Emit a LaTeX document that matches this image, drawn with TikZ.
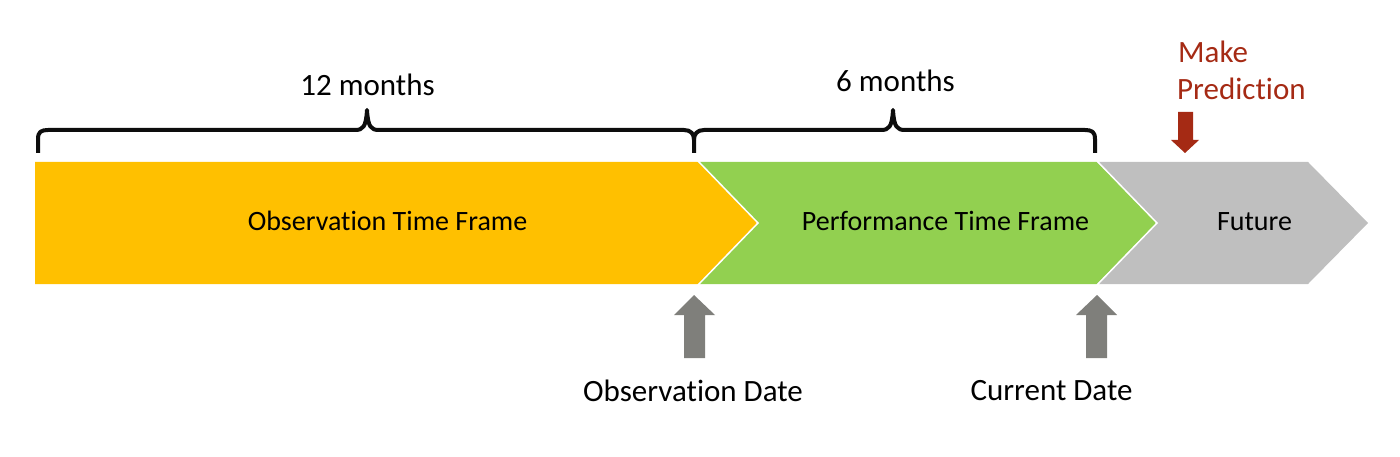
\documentclass[tikz,border=0pt]{standalone}
\usepackage{fontspec}
\setmainfont{Carlito}[Ligatures={NoCommon}]
\definecolor{obsyellow}{HTML}{FFC000}
\definecolor{perfgreen}{HTML}{92D050}
\definecolor{futgray}{HTML}{BFBFBF}
\definecolor{arrgray}{HTML}{7F7F7B}
\definecolor{predred}{HTML}{A52A14}
\begin{document}
\begin{tikzpicture}[x=1pt,y=-1pt,
  bandtext/.style={font=\fontsize{28}{34}\selectfont, inner sep=0pt, anchor=base},
  labeltext/.style={font=\fontsize{31}{37}\selectfont, inner sep=0pt, anchor=base},
  predtext/.style={font=\fontsize{31}{37}\selectfont, inner sep=0pt, anchor=base west, text=predred},
  sep/.style={draw=white, line width=1.5pt, line join=miter},
  bracestyle/.style={draw=black!95, line width=4pt, line join=round, line cap=butt},
  uparrow/.style={fill=arrgray},
  downarrow/.style={fill=predred}]
\useasboundingbox (0,0) rectangle (1400,457);
% chevrons
\fill[obsyellow] (35,162) -- (698,162) -- (758,223) -- (698,284) -- (35,284) -- cycle;
\fill[perfgreen] (698,162) -- (1097,162) -- (1157,223) -- (1097,284) -- (698,284) -- (758,223) -- cycle;
\fill[futgray] (1097,162) -- (1308,162) -- (1368,223) -- (1308,284) -- (1097,284) -- (1157,223) -- cycle;
\draw[sep] (698,161) -- (758,223) -- (698,285);
\draw[sep] (1097,161) -- (1157,223) -- (1097,285);
% band texts
\node[bandtext] (obstf) at (387.5,231) {Observation Time Frame};
\node[bandtext] (perftf) at (945.5,231) {Performance Time Frame};
\node[bandtext] (fut) at (1254.5,231) {Future};
% braces
\draw[bracestyle] (38,153) -- (38,139) .. controls (38,132) and (41,130) .. (48,130)
  -- (355,130) .. controls (363,130) and (366,127) .. (367,110)
  .. controls (368,127) and (371,130) .. (379,130)
  -- (684,130) .. controls (691,130) and (694,134) .. (694,140) -- (694,153);
\draw[bracestyle] (694,140) .. controls (694,134) and (697,130) .. (704,130)
  -- (881,130) .. controls (889,130) and (892,127) .. (893,110)
  .. controls (894,127) and (897,130) .. (905,130)
  -- (1085,130) .. controls (1092,130) and (1095,132) .. (1095,139) -- (1095,153);
\node[labeltext] (m12) at (367.5,96) {12 months};
\node[labeltext] (m6) at (895.5,92) {6 months};
% up arrows
\fill[uparrow] (694,295) -- (715,315) -- (705,315) -- (705,358) -- (684,358) -- (684,315) -- (674,315) -- cycle;
\fill[uparrow] (1097,295) -- (1117,315) -- (1107,315) -- (1107,358) -- (1086,358) -- (1086,315) -- (1076,315) -- cycle;
\node[labeltext] (obsdate) at (693,401) {Observation Date};
\node[labeltext] (curdate) at (1051.5,400) {Current Date};
% down arrow
\fill[downarrow] (1178,112) -- (1193,112) -- (1193,140) -- (1199,140) -- (1185,153) -- (1171,140) -- (1178,140) -- cycle;
\node[predtext] (make) at (1178,63) {Make};
\node[predtext] (pred) at (1177,100) {Prediction};
\end{tikzpicture}
\end{document}
